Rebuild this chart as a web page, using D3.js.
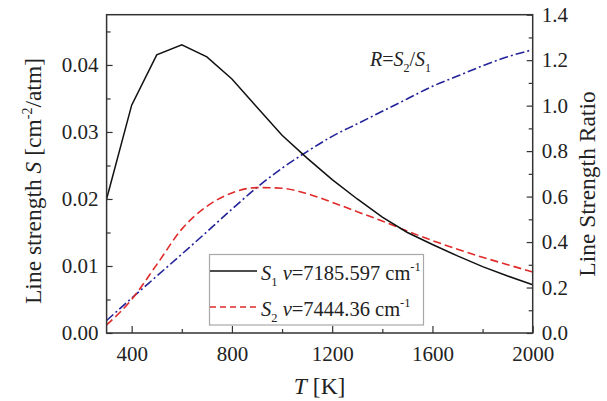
<!DOCTYPE html>
<html>
<head>
<meta charset="utf-8">
<script src="https://cdn.jsdelivr.net/npm/d3@7"></script>
<style>
  html, body { margin: 0; padding: 0; background: #fff; }
  svg { display: block; }
  text { font-family: "Liberation Serif", "Times New Roman", serif; fill: #222; }
</style>
</head>
<body>
<svg id="chart" width="607" height="401"></svg>
<script>
// ---- data ----
const temps = [300, 400, 500, 600, 700, 800, 900, 1000, 1100, 1200, 1300, 1400, 1500, 1600, 1700, 1800, 1900, 2000];
const s1Values = [0.0200, 0.0340, 0.0415, 0.0430, 0.0412, 0.0379, 0.0337, 0.0295, 0.0261, 0.0229, 0.0200, 0.0173, 0.0150, 0.0132, 0.0115, 0.0099, 0.0085, 0.0072];
const s2Values = [0.0012, 0.0050, 0.0102, 0.0155, 0.0189, 0.0209, 0.0217, 0.0216, 0.0208, 0.0195, 0.0181, 0.0167, 0.0152, 0.0138, 0.0125, 0.0113, 0.0102, 0.0091];
const ratioValues = [0.055, 0.153, 0.250, 0.347, 0.445, 0.545, 0.640, 0.725, 0.798, 0.865, 0.920, 0.975, 1.030, 1.085, 1.130, 1.175, 1.215, 1.246];
const xTicks = [400, 800, 1200, 1600, 2000];
const xMinorTicks = [600, 1000, 1400, 1800];
const leftTicks = [0, 0.01, 0.02, 0.03, 0.04];
const leftMinorTicks = [0.005, 0.015, 0.025, 0.035, 0.045];
const rightTicks = [0, 0.2, 0.4, 0.6, 0.8, 1.0, 1.2, 1.4];
const rightMinorTicks = [0.1, 0.3, 0.5, 0.7, 0.9, 1.1, 1.3];
const legendLabels = [
  { sub: "1", value: "=7185.597 cm" },
  { sub: "2", value: "=7444.36 cm" }
];

// ---- layout ----
const svg = d3.select("#chart");
const L = 106.6, R = 532.7, T = 14.7, B = 333;
const axisColor = "#333";
const tickFont = 21;

const x = d3.scaleLinear().domain([300, 2000]).range([L, R]);
const yL = d3.scaleLinear().domain([0, 0.0475]).range([B, T]);
const yR = d3.scaleLinear().domain([0, 1.4]).range([B, T]);

const colS1 = "#111", colS2 = "#e02a2a", colR = "#23239b";

// lines
const lineS1 = d3.line().x((d, i) => x(temps[i])).y(d => yL(d));
const lineS2 = d3.line().x((d, i) => x(temps[i])).y(d => yL(d)).curve(d3.curveMonotoneX);
const lineR = d3.line().x((d, i) => x(temps[i])).y(d => yR(d)).curve(d3.curveMonotoneX);

const plot = svg.append("g");
plot.append("path").attr("d", lineR(ratioValues)).attr("fill", "none")
  .attr("stroke", colR).attr("stroke-width", 1.6).attr("stroke-dasharray", "9,3,2,3");
plot.append("path").attr("d", lineS2(s2Values)).attr("fill", "none")
  .attr("stroke", colS2).attr("stroke-width", 1.6).attr("stroke-dasharray", "8,4");
plot.append("path").attr("d", lineS1(s1Values)).attr("fill", "none")
  .attr("stroke", colS1).attr("stroke-width", 1.5);

// axes
function styleAxis(g) {
  g.select(".domain").remove();
  g.selectAll(".tick line").attr("stroke", axisColor).attr("stroke-width", 1.2);
  g.selectAll(".tick text").style("font-size", tickFont + "px").attr("fill", "#222");
}
const xAxis = svg.append("g").attr("transform", `translate(0,${B})`)
  .call(d3.axisBottom(x).tickValues(xTicks).tickFormat(d3.format("d")).tickSizeInner(-7).tickSizeOuter(0).tickPadding(13));
styleAxis(xAxis);
const xMinor = svg.append("g").attr("transform", `translate(0,${B})`)
  .call(d3.axisBottom(x).tickValues(xMinorTicks).tickFormat("").tickSizeInner(-4).tickSizeOuter(0));
styleAxis(xMinor);

const leftAxis = svg.append("g").attr("transform", `translate(${L},0)`)
  .call(d3.axisLeft(yL).tickValues(leftTicks).tickFormat(d3.format(".2f")).tickSizeInner(-6).tickSizeOuter(0).tickPadding(8));
styleAxis(leftAxis);
const leftMinor = svg.append("g").attr("transform", `translate(${L},0)`)
  .call(d3.axisLeft(yL).tickValues(leftMinorTicks).tickFormat("").tickSizeInner(-4).tickSizeOuter(0));
styleAxis(leftMinor);

const rightAxis = svg.append("g").attr("transform", `translate(${R},0)`)
  .call(d3.axisRight(yR).tickValues(rightTicks).tickFormat(d3.format(".1f")).tickSizeInner(-6).tickSizeOuter(0).tickPadding(9));
styleAxis(rightAxis);
const rightMinor = svg.append("g").attr("transform", `translate(${R},0)`)
  .call(d3.axisRight(yR).tickValues(rightMinorTicks).tickFormat("").tickSizeInner(-4).tickSizeOuter(0));
styleAxis(rightMinor);

// frame
svg.append("rect").attr("x", L).attr("y", T).attr("width", R - L).attr("height", B - T)
  .attr("fill", "none").attr("stroke", axisColor).attr("stroke-width", 1.5);

// axis titles
const titleFont = 23.5;
const lt = svg.append("text").attr("transform", `translate(41,181) rotate(-90)`)
  .attr("text-anchor", "middle").style("font-size", titleFont + "px");
lt.append("tspan").text("Line strength ");
lt.append("tspan").attr("font-style", "italic").text("S");
lt.append("tspan").text(" [cm");
lt.append("tspan").attr("dy", -9).style("font-size", "14px").text("-2");
lt.append("tspan").attr("dy", 9).text("/atm]");

svg.append("text").attr("transform", `translate(595,184) rotate(-90)`)
  .attr("text-anchor", "middle").style("font-size", titleFont + "px").text("Line Strength Ratio");

const xt = svg.append("text").attr("x", (L + R) / 2).attr("y", 394)
  .attr("text-anchor", "middle").style("font-size", titleFont + "px");
xt.append("tspan").attr("font-style", "italic").text("T");
xt.append("tspan").text(" [K]");

// R = S2/S1 annotation
const ann = svg.append("text").attr("x", 370).attr("y", 66).style("font-size", "20px");
ann.append("tspan").attr("font-style", "italic").text("R");
ann.append("tspan").text("=");
ann.append("tspan").attr("font-style", "italic").text("S");
ann.append("tspan").attr("dy", 6).style("font-size", "12px").text("2");
ann.append("tspan").attr("dy", -6).text("/");
ann.append("tspan").attr("font-style", "italic").text("S");
ann.append("tspan").attr("dy", 6).style("font-size", "12px").text("1");

// legend
const lg = svg.append("g");
lg.append("rect").attr("x", 209.5).attr("y", 254.5).attr("width", 214).attr("height", 70.5)
  .attr("fill", "#fff").attr("stroke", "#a8a8a8").attr("stroke-width", 1.2);
const legendStyles = [
  { color: colS1, dash: null },
  { color: colS2, dash: "6,4" }
];
legendLabels.forEach((d, i) => {
  const yLine = 271 + i * 36;
  const st = legendStyles[i];
  const ln = lg.append("line").attr("x1", 210).attr("x2", 257).attr("y1", yLine).attr("y2", yLine)
    .attr("stroke", st.color).attr("stroke-width", 1.6);
  if (st.dash) ln.attr("stroke-dasharray", st.dash);
  const t = lg.append("text").attr("x", 261).attr("y", yLine + 9).style("font-size", "20.5px");
  t.append("tspan").attr("font-style", "italic").text("S");
  t.append("tspan").attr("dy", 6).style("font-size", "12.5px").text(d.sub);
  t.append("tspan").attr("dy", -6).text(" ");
  t.append("tspan").attr("font-style", "italic").text("v");
  t.append("tspan").text(d.value);
  t.append("tspan").attr("dy", -9).style("font-size", "12.5px").text("-1");
});
</script>
</body>
</html>
